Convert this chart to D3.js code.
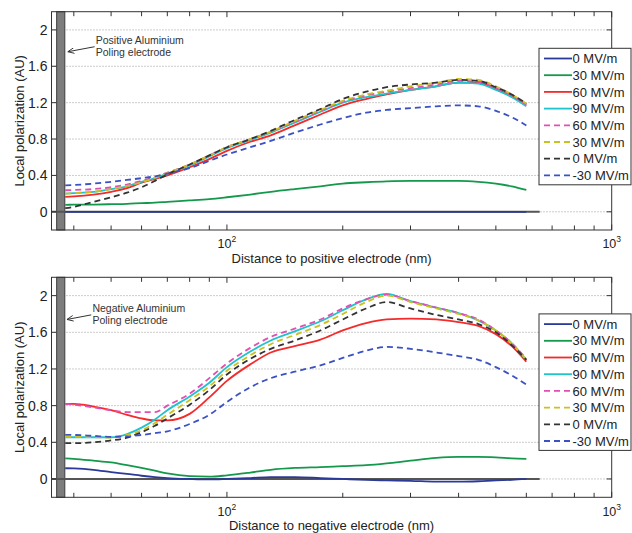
<!DOCTYPE html>
<html><head><meta charset="utf-8">
<script src="https://cdn.jsdelivr.net/npm/d3@7"></script>
<style>body{margin:0;background:#fff} svg{display:block;font-family:Arial,"Liberation Sans",Helvetica,sans-serif}</style>
</head><body><svg id="c" width="632" height="533"></svg>
<script>
// ---------- data ----------
const distanceNm = [38,40,45,50,55,60,65,70,80,90,100,115,130,150,175,200,230,260,300,350,400,450,500,550,600];
const seriesLabels = ["0 MV/m","30 MV/m","60 MV/m","90 MV/m","60 MV/m","30 MV/m","0 MV/m","-30 MV/m"];
const seriesColors = ["#2b3a98","#14994c","#f52a2a","#1fc3cc","#e04fb4","#c9c21e","#333333","#3a52c4"];
const seriesDashed = [false,false,false,false,true,true,true,true];

// positive electrode panel
const posUp0   = [0,0,0,0,0,0,0,0,0,0,0,0,0,0,0,0,0,0,0,0,0,0,0,0,0];
const posUp30  = [.077,.078,.08,.084,.088,.095,.10,.11,.125,.14,.16,.19,.22,.25,.28,.31,.325,.335,.34,.34,.34,.33,.31,.28,.24];
const posUp60  = [.165,.17,.19,.22,.26,.32,.36,.40,.49,.58,.67,.77,.84,.95,1.07,1.17,1.24,1.29,1.34,1.38,1.42,1.42,1.35,1.27,1.18];
const posUp90  = [.20,.205,.22,.25,.28,.33,.37,.42,.51,.61,.70,.79,.87,.98,1.10,1.20,1.26,1.30,1.34,1.38,1.42,1.41,1.34,1.26,1.16];
const posDn60  = [.237,.24,.25,.27,.30,.34,.38,.43,.52,.62,.71,.80,.88,.99,1.11,1.21,1.28,1.32,1.36,1.40,1.44,1.43,1.36,1.28,1.18];
const posDn30  = [.20,.205,.22,.25,.285,.325,.375,.425,.52,.62,.71,.80,.88,1.00,1.12,1.22,1.29,1.33,1.38,1.42,1.46,1.45,1.38,1.29,1.19];
const posDn0   = [.04,.055,.11,.16,.21,.27,.34,.41,.52,.62,.71,.80,.89,1.01,1.13,1.24,1.32,1.37,1.40,1.42,1.45,1.44,1.37,1.29,1.19];
const posDnM30 = [.29,.295,.31,.33,.35,.37,.39,.42,.48,.56,.63,.71,.78,.87,.96,1.03,1.09,1.12,1.14,1.16,1.17,1.16,1.11,1.04,.95];

// negative electrode panel
const negUp0   = [.117,.115,.10,.075,.055,.035,.02,.01,0,-.005,0,.01,.02,.02,.01,0,-.01,-.015,-.02,-.03,-.03,-.025,-.015,-.01,0];
const negUp30  = [.225,.22,.20,.18,.15,.12,.09,.06,.03,.025,.04,.07,.10,.12,.13,.14,.15,.17,.20,.23,.24,.24,.235,.225,.22];
const negUp60  = [.82,.82,.79,.75,.70,.66,.64,.64,.71,.89,1.07,1.25,1.38,1.45,1.52,1.62,1.70,1.74,1.75,1.74,1.71,1.67,1.58,1.45,1.28];
const negUp90  = [.455,.455,.455,.455,.49,.56,.65,.75,.90,1.05,1.22,1.39,1.51,1.61,1.72,1.84,1.96,2.02,1.94,1.87,1.81,1.73,1.62,1.48,1.30];
const negDn60  = [.82,.81,.78,.75,.73,.73,.73,.80,.93,1.10,1.26,1.43,1.55,1.64,1.74,1.86,1.96,2.01,1.94,1.87,1.81,1.74,1.62,1.48,1.31];
const negDn30  = [.46,.46,.455,.45,.48,.53,.61,.70,.86,1.01,1.18,1.35,1.47,1.57,1.68,1.80,1.93,2.00,1.93,1.86,1.80,1.73,1.62,1.48,1.30];
const negDn0   = [.39,.39,.40,.42,.45,.51,.58,.66,.81,.97,1.14,1.31,1.42,1.51,1.62,1.74,1.86,1.93,1.86,1.79,1.74,1.69,1.60,1.46,1.30];
const negDnM30 = [.48,.48,.47,.46,.465,.48,.50,.52,.60,.70,.84,1.00,1.10,1.17,1.24,1.32,1.40,1.44,1.42,1.38,1.34,1.30,1.22,1.13,1.03];

const yTicks = [0,0.4,0.8,1.2,1.6,2];
const yTickLabels = ["0","0.4","0.8","1.2","1.6","2"];
const xMajorTicks = [100,1000];
const xMajorExp = ["2","3"];
const xMinorTicks = [40,50,60,70,80,90,200,300,400,500,600,700,800,900];
const electrodeNm = [36.1,37.9];
const baselineNm = [35,650];

// ---------- layout ----------
const svg = d3.select("#c");
const x = d3.scaleLog().domain([35,1000]).range([51.5,611.7]);

const panels = [
  {top:11.7, bottom:230, series:[posUp0,posUp30,posUp60,posUp90,posDn60,posDn30,posDn0,posDnM30],
   xLabel:"Distance to positive electrode (nm)", note:["Positive Aluminium","Poling electrode"],
   noteAt:[45.6,1.844], arrowFrom:[45.3,1.815], arrowTo:[38.6,1.76]},
  {top:277.3, bottom:497.3, series:[negUp0,negUp30,negUp60,negUp90,negDn60,negDn30,negDn0,negDnM30],
   xLabel:"Distance to negative electrode (nm)", note:["Negative Aluminium","Poling electrode"],
   noteAt:[44.7,1.825], arrowFrom:[44.4,1.79], arrowTo:[38.4,1.74]}
];

const defs = svg.append("defs");
defs.append("marker").attr("id","ah").attr("viewBox","0 0 10 10").attr("refX",9).attr("refY",5)
  .attr("markerWidth",7).attr("markerHeight",7).attr("orient","auto-start-reverse")
  .append("path").attr("d","M0,1 L9,5 L0,9").attr("fill","none").attr("stroke","#333").attr("stroke-width",1.3);

const [xl, xr] = x.range();

panels.forEach(p => {
  const y = d3.scaleLinear().domain([-0.2,2.2]).range([p.bottom,p.top]);
  const g = svg.append("g");

  // dotted grid
  g.selectAll(".grid").data(yTicks).join("line")
    .attr("x1",xl).attr("x2",xr).attr("y1",d=>y(d)).attr("y2",d=>y(d))
    .attr("stroke","#999").attr("stroke-width",1).attr("stroke-dasharray","1,2");

  // electrode bar
  g.append("rect").attr("x",x(electrodeNm[0])).attr("y",p.top)
    .attr("width",x(electrodeNm[1])-x(electrodeNm[0])).attr("height",p.bottom-p.top)
    .attr("fill","#7d7d7d").attr("stroke","#3d3d3d").attr("stroke-width",1);

  // zero baseline
  g.append("line").attr("x1",x(baselineNm[0])).attr("x2",x(baselineNm[1]))
    .attr("y1",y(0)).attr("y2",y(0)).attr("stroke","#555").attr("stroke-width",2);

  // series
  const line = d3.line().x((d,i)=>x(distanceNm[i])).y(d=>y(d)).curve(d3.curveMonotoneX);
  p.series.forEach((s,k) => {
    g.append("path").attr("d",line(s)).attr("fill","none")
      .attr("stroke",seriesColors[k]).attr("stroke-width",1.8)
      .attr("stroke-dasharray",seriesDashed[k]?"6,4":null);
  });

  // box
  g.append("rect").attr("x",xl).attr("y",p.top).attr("width",xr-xl).attr("height",p.bottom-p.top)
    .attr("fill","none").attr("stroke","#333").attr("stroke-width",1);

  // y ticks (both sides, inward)
  yTicks.forEach((t,i) => {
    g.append("line").attr("x1",xl).attr("x2",xl+5).attr("y1",y(t)).attr("y2",y(t)).attr("stroke","#333");
    g.append("line").attr("x1",xr).attr("x2",xr-5).attr("y1",y(t)).attr("y2",y(t)).attr("stroke","#333");
    g.append("text").attr("x",xl-4).attr("y",y(t)+5).attr("text-anchor","end")
      .attr("font-size",14).attr("fill","#222").text(yTickLabels[i]);
  });

  // x ticks
  xMajorTicks.concat(xMinorTicks).forEach(t => {
    const L = xMajorTicks.includes(t) ? 5.5 : 4.5;
    g.append("line").attr("x1",x(t)).attr("x2",x(t)).attr("y1",p.bottom).attr("y2",p.bottom-L).attr("stroke","#333");
    g.append("line").attr("x1",x(t)).attr("x2",x(t)).attr("y1",p.top).attr("y2",p.top+L).attr("stroke","#333");
  });
  xMajorTicks.forEach((t,i) => {
    const tx = g.append("text").attr("x",x(t)).attr("y",p.bottom+18.3).attr("text-anchor","middle")
      .attr("font-size",12.5).attr("fill","#222");
    tx.append("tspan").text("10");
    tx.append("tspan").attr("font-size",8.5).attr("dy",-6).text(xMajorExp[i]);
  });

  // axis labels
  g.append("text").attr("x",(xl+xr)/2).attr("y",p.bottom+32.5).attr("text-anchor","middle")
    .attr("font-size",13).attr("fill","#222").text(p.xLabel);
  g.append("text").attr("transform",`translate(24,${(p.top+p.bottom)/2}) rotate(-90)`)
    .attr("text-anchor","middle").attr("font-size",13).attr("fill","#222").text("Local polarization (AU)");

  // annotation
  p.note.forEach((s,i) => {
    g.append("text").attr("x",x(p.noteAt[0])).attr("y",y(p.noteAt[1])+i*12.3)
      .attr("font-size",10.5).attr("fill","#333").text(s);
  });
  g.append("line").attr("x1",x(p.arrowFrom[0])).attr("y1",y(p.arrowFrom[1]))
    .attr("x2",x(p.arrowTo[0])).attr("y2",y(p.arrowTo[1]))
    .attr("stroke","#333").attr("stroke-width",1).attr("marker-end","url(#ah)");

  // legend
  const lx = 539, ly = p.top + 36.6;
  const lg = svg.append("g");
  lg.append("rect").attr("x",lx).attr("y",ly).attr("width",92).attr("height",136.5)
    .attr("fill","#fff").attr("stroke","#333").attr("stroke-width",1);
  seriesLabels.forEach((lab,k) => {
    const yy = ly + 10.2 + 16.7*k;
    lg.append("line").attr("x1",lx+5).attr("x2",lx+33).attr("y1",yy).attr("y2",yy)
      .attr("stroke",seriesColors[k]).attr("stroke-width",1.8)
      .attr("stroke-dasharray",seriesDashed[k]?"6,4":null);
    lg.append("text").attr("x",lx+33.5).attr("y",yy+4.6).attr("font-size",13).attr("fill","#222").text(lab);
  });
});
</script></body></html>
